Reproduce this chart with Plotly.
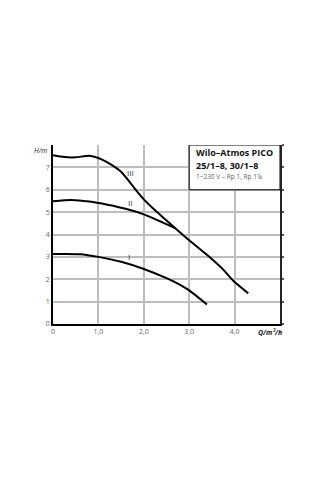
import plotly.graph_objects as go

# Curve data (Q in m3/h, H in m)
q_III = [0, 0.25, 0.5, 0.8, 1.0, 1.2, 1.5, 1.84, 2.0, 2.2, 2.45, 2.7, 3.0, 3.46, 3.75, 3.97, 4.3]
h_III = [7.54, 7.46, 7.45, 7.52, 7.42, 7.22, 6.80, 5.95, 5.57, 5.17, 4.72, 4.27, 3.74, 2.97, 2.43, 1.93, 1.37]

q_II = [0, 0.4, 0.8, 1.2, 1.6, 2.0, 2.4, 2.7]
h_II = [5.49, 5.54, 5.47, 5.33, 5.15, 4.90, 4.55, 4.27]

q_I = [0, 0.6, 1.0, 1.5, 2.0, 2.5, 2.8, 3.0, 3.39]
h_I = [3.13, 3.12, 3.0, 2.78, 2.46, 2.05, 1.75, 1.5, 0.87]

x_ticks = [0, 1, 2, 3, 4]
x_tick_labels = ["0", "1,0", "2,0", "3,0", "4,0"]
y_ticks = [0, 1, 2, 3, 4, 5, 6, 7]
y_tick_labels = ["0", "1", "2", "3", "4", "5", "6", "7"]

title_lines = ["Wilo\u2013Atmos PICO", "25/1\u20138, 30/1\u20138"]
sub_line = "1~230 V \u2013 Rp 1, Rp 1\u00bc"

FONT = "Open Sans"
fig = go.Figure()
for q, h in [(q_III, h_III), (q_II, h_II), (q_I, h_I)]:
    fig.add_trace(go.Scatter(x=q, y=h, mode="lines",
                             line=dict(color="black", width=2, shape="spline", smoothing=0.6),
                             showlegend=False, hoverinfo="skip"))

fig.update_layout(
    template="none",
    width=320, height=480,
    margin=dict(l=53, r=40, t=145, b=156),
    paper_bgcolor="white", plot_bgcolor="white",
    font=dict(family=FONT, size=7, color="#555"),
    xaxis=dict(range=[0, 5], tickmode="array", tickvals=x_ticks, ticktext=x_tick_labels,
               showgrid=True, gridcolor="#bdbdbd", gridwidth=1.5,
               showline=True, linecolor="black", linewidth=1.6, mirror=False,
               ticks="", zeroline=False,
               tickfont=dict(size=7, color="#666")),
    yaxis=dict(range=[0, 8], tickmode="array", tickvals=y_ticks, ticktext=y_tick_labels,
               showgrid=True, gridcolor="#bdbdbd", gridwidth=1.5,
               showline=True, linecolor="black", linewidth=1.6,
               ticks="", zeroline=False,
               tickfont=dict(size=7, color="#666")),
    yaxis2=dict(range=[0, 8], overlaying="y", side="right", tickmode="array",
                tickvals=y_ticks + [8], showticklabels=False, showgrid=False,
                showline=True, linecolor="#222", linewidth=1.5, ticks="outside",
                ticklen=2, tickcolor="#555", tickwidth=1.5, zeroline=False),
)
fig.add_trace(go.Scatter(x=[0], y=[0], yaxis="y2", mode="markers",
                         marker=dict(opacity=0), showlegend=False, hoverinfo="skip"))

# Legend box
fig.add_shape(type="rect", x0=3, x1=5, y0=6, y1=8, xref="x", yref="y",
              fillcolor="white", line=dict(color="black", width=1), layer="above")

fig.add_annotation(x=3.1, y=7.68, xref="x", yref="y", text="<b>" + title_lines[0] + "</b>",
                   showarrow=False, xanchor="left", yanchor="middle",
                   font=dict(family=FONT, size=9, color="#111"))
fig.add_annotation(x=3.1, y=7.07, xref="x", yref="y", text="<b>" + title_lines[1] + "</b>",
                   showarrow=False, xanchor="left", yanchor="middle",
                   font=dict(family=FONT, size=9, color="#111"))
fig.add_annotation(x=3.1, y=6.6, xref="x", yref="y", text=sub_line,
                   showarrow=False, xanchor="left", yanchor="middle",
                   font=dict(family=FONT, size=6.5, color="#666"))

# Curve labels
for txt, xx, yy in [("III", 1.70, 6.75), ("II", 1.70, 5.45), ("I", 1.68, 3.0)]:
    fig.add_annotation(x=xx, y=yy, xref="x", yref="y", text=txt, showarrow=False,
                       font=dict(family=FONT, size=8, color="#333"))

# Axis titles
fig.add_annotation(x=0, y=8, xref="x", yref="y", text="<i>H/m</i>", showarrow=False,
                   xanchor="right", yanchor="middle", xshift=-4, yshift=-5,
                   font=dict(family=FONT, size=7, color="#222"))
fig.add_annotation(x=4.78, y=0, xref="x", yref="y", text="<i><b>Q/m\u00b3/h</b></i>", showarrow=False,
                   xanchor="center", yanchor="top", yshift=-2,
                   font=dict(family=FONT, size=7, color="#222"))

fig.write_html("out.html")
